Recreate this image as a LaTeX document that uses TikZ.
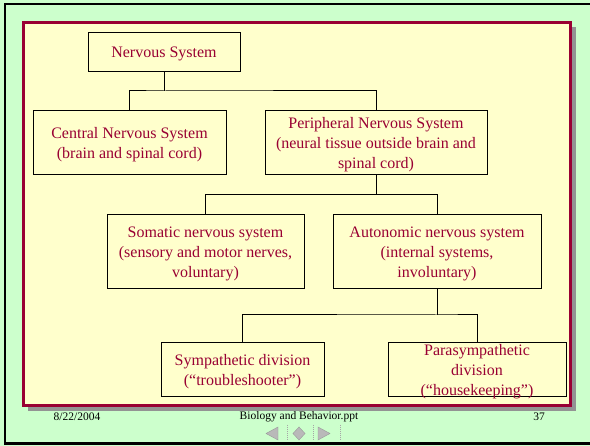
\documentclass[tikz,border=0pt]{standalone}
\usepackage{fontspec}
\setmainfont{Liberation Serif}
\begin{document}
\begin{tikzpicture}[x=1pt,y=-1pt,
  box/.style={draw=black,line width=0.9pt,fill=paper,inner sep=0pt},
  plain/.style={inner sep=0pt,align=center,text=crim,font=\fontsize{16}{20}\selectfont},
  foot/.style={inner sep=0pt,font=\fontsize{11.5}{13}\selectfont,text=black},
  conn/.style={draw=black,line width=1pt},
  navicon/.style={fill=gray!55,draw=gray!80,line width=0.4pt},
  navsep/.style={draw=gray!70,line width=0.5pt,dash pattern=on 1pt off 1pt}]
\definecolor{bg}{HTML}{CCFFCC}
\definecolor{paper}{HTML}{FFFFCC}
\definecolor{crim}{HTML}{990033}
\useasboundingbox (0,0) rectangle (590,446);
% slide background
\fill[bg] (0,0) rectangle (590,446);
\draw[black,line width=2.2pt] (600,4) -- (5,4) -- (5,443.5) -- (600,443.5);
% frame with shadow
\fill[gray!85] (28,27) rectangle (576,411);
\draw[crim,line width=3.2pt,fill=paper] (23.5,22.5) rectangle (570.5,405.5);
% nodes
\node[box,minimum width=152,minimum height=39,
  label={[plain,yshift=-2pt]center:{Nervous System}}] (ns) at (164,51.5) {};
\node[box,minimum width=193,minimum height=64,
  label={[plain,yshift=-2.5pt]center:{Central Nervous System\\(brain and spinal cord)}}] (cns) at (129.5,142) {};
\node[box,minimum width=222,minimum height=64,
  label={[plain,yshift=-2.5pt]center:{Peripheral Nervous System\\(neural tissue outside brain and\\spinal cord)}}] (pns) at (376,142) {};
\node[box,minimum width=197,minimum height=74,
  label={[plain,yshift=-2.5pt]center:{Somatic nervous system\\(sensory and motor nerves,\\voluntary)}}] (som) at (205.5,251) {};
\node[box,minimum width=208,minimum height=74,
  label={[plain,yshift=-2.5pt]center:{Autonomic nervous system\\(internal systems,\\involuntary)}}] (aut) at (437,251) {};
\node[box,minimum width=163,minimum height=54,
  label={[plain,yshift=-2.5pt]center:{Sympathetic division\\(``troubleshooter'')}}] (sym) at (242.5,369) {};
\node[box,minimum width=178,minimum height=54,
  label={[plain,yshift=-2.5pt]center:{Parasympathetic\\division\\(``housekeeping'')}}] (par) at (477,369) {};
% connectors
\coordinate (j1) at (164,91);
\coordinate (j2) at (376,194.5);
\coordinate (j3) at (437,315);
\draw[conn] (ns.south) -- (j1);
\draw[conn] (cns.north) |- (j1) -| (pns.north);
\draw[conn] (pns.south) -- (j2);
\draw[conn] (som.north) |- (j2) -| (aut.north);
\draw[conn] (aut.south) -- (j3);
\draw[conn] (sym.north) |- (j3) -| (par.north);
% footer
\node[foot] (date) at (77,417) {8/22/2004};
\node[foot] (title) at (299,417) {Biology and Behavior.ppt};
\node[foot] (page) at (539,417) {37};
% navigation icons
\draw[navicon] (266,433.5) -- (278,427) -- (278,440) -- cycle;
\draw[navicon] (299,427) -- (305,433.5) -- (299,440) -- (293,433.5) -- cycle;
\draw[navicon] (330,433.5) -- (318,427) -- (318,440) -- cycle;
\draw[navsep] (287,425) -- (287,441);
\draw[navsep] (313,425) -- (313,441);
\draw[navsep] (340,425) -- (340,441);
\end{tikzpicture}
\end{document}
